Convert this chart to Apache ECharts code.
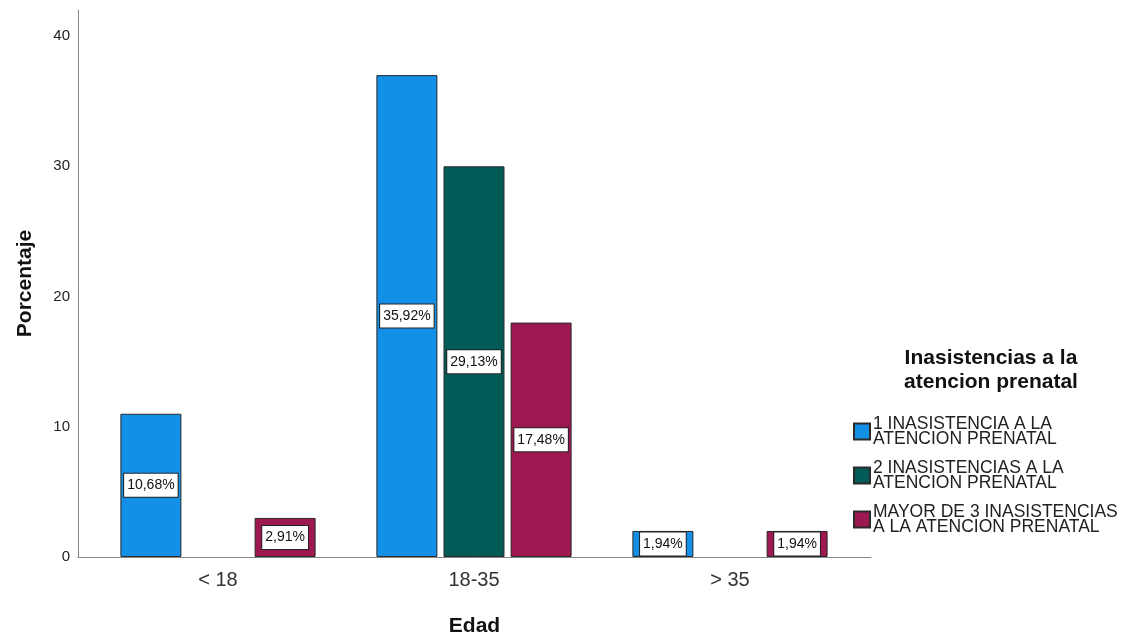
<!DOCTYPE html>
<html>
<head>
<meta charset="utf-8">
<script src="https://cdn.jsdelivr.net/npm/echarts@6/dist/echarts.min.js"></script>
<style>
html,body{margin:0;padding:0;background:#fff;}
#chart{width:1134px;height:635px;}
</style>
</head>
<body>
<div id="chart"></div>
<script>
// Categories (Edad)
const categories = ['< 18', '18-35', '> 35'];
// Series names
const seriesNames = [
  '1 INASISTENCIA A LA\nATENCION PRENATAL',
  '2 INASISTENCIAS A LA\nATENCION PRENATAL',
  'MAYOR DE 3 INASISTENCIAS\nA LA ATENCION PRENATAL'
];
// Bar heights as drawn (counts, n = 103)
const bars1 = [11, 37, 2];
const bars2 = [0, 30, 0];
const bars3 = [3, 18, 2];
// Percentage labels shown on bars
const pct1 = [10.68, 35.92, 1.94];
const pct2 = [0, 29.13, 0];
const pct3 = [2.91, 17.48, 1.94];
// Y-axis ticks
const yMin = 0, yMax = 42, yInterval = 10;

const colors = ['#148FE6', '#035B58', '#9D1850'];
const FONT = '"Liberation Sans", Arial, sans-serif';

function fmt(v) { return v.toFixed(2).replace('.', ',') + '%'; }

function makeSeries(i, vals, pcts) {
  return {
    type: 'bar',
    name: seriesNames[i],
    xAxisIndex: 0,
    yAxisIndex: 0,
    barWidth: 61,
    barGap: '10%',
    data: vals.map(v => v === 0 ? '-' : v),
    itemStyle: { color: colors[i], borderColor: '#2a2a2a', borderWidth: 1 },
    label: {
      show: true,
      position: 'inside',
      formatter: p => fmt(pcts[p.dataIndex]),
      fontFamily: FONT,
      fontSize: 14,
      color: '#111',
      backgroundColor: '#fff',
      borderColor: '#222',
      borderWidth: 1,
      padding: [4, 3, 3, 3],
      lineHeight: 16
    },
    emphasis: { disabled: true }
  };
}

const chart = echarts.init(document.getElementById('chart'));
chart.setOption({
  animation: false,
  textStyle: { fontFamily: FONT },
  grid: [
    { left: 90, right: 276, top: 10, bottom: 78, outerBoundsMode: 'none', containLabel: false },
    { left: 78, right: 263, top: 10, bottom: 78, outerBoundsMode: 'none', containLabel: false }
  ],
  xAxis: [
    {
      type: 'category', gridIndex: 0, data: categories,
      axisLine: { show: false }, axisTick: { show: false },
      axisLabel: { fontSize: 20, color: '#333', margin: 13, fontFamily: FONT }
    },
    {
      type: 'value', gridIndex: 1, min: 0, max: 1,
      axisLine: { show: true, lineStyle: { color: '#888', width: 1 } },
      axisTick: { show: false }, axisLabel: { show: false }, splitLine: { show: false },
      name: 'Edad', nameLocation: 'middle', nameGap: 59,
      nameTextStyle: { fontSize: 21, fontWeight: 'bold', color: '#111', fontFamily: FONT }
    }
  ],
  yAxis: [
    { type: 'value', gridIndex: 0, min: yMin, max: yMax, interval: yInterval, show: false },
    {
      type: 'value', gridIndex: 1, min: yMin, max: yMax, interval: yInterval,
      axisLine: { show: true, lineStyle: { color: '#888', width: 1 } },
      axisTick: { show: false }, splitLine: { show: false },
      axisLabel: { fontSize: 15, color: '#222', margin: 8, showMaxLabel: false, fontFamily: FONT, padding: [6, 0, 0, 0] },
      name: 'Porcentaje', nameLocation: 'middle', nameGap: 42,
      nameTextStyle: { fontSize: 21, fontWeight: 'bold', color: '#111', fontFamily: FONT }
    }
  ],
  legend: {
    orient: 'vertical',
    left: 848,
    top: 410,
    icon: 'rect',
    itemWidth: 16,
    itemHeight: 16,
    itemGap: 11,
    data: seriesNames,
    textStyle: { fontSize: 17.5, lineHeight: 15, color: '#222', fontFamily: FONT, padding: [0,0,0,-2] },
    selectedMode: false
  },
  graphic: [
    {
      type: 'text', x: 991, y: 346,
      style: {
        text: 'Inasistencias a la\natencion prenatal',
        textAlign: 'center',
        font: 'bold 21px ' + FONT,
        lineHeight: 24,
        fill: '#111'
      }
    }
  ],
  series: [
    makeSeries(0, bars1, pct1),
    makeSeries(1, bars2, pct2),
    makeSeries(2, bars3, pct3)
  ]
});
</script>
</body>
</html>
